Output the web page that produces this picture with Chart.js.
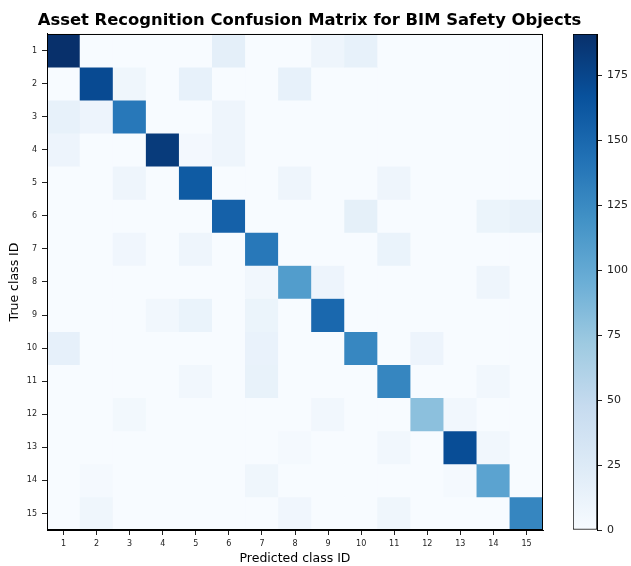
<!DOCTYPE html>
<html>
<head>
<meta charset="utf-8">
<script src="https://cdn.jsdelivr.net/npm/chart.js@4.4.1/dist/chart.umd.min.js"></script>
<style>
    body { margin: 0; background: #fff; }
    #wrap { position: relative; width: 631px; height: 566px; }
    #matriz { position: absolute; left: 0; top: 0; }
    #barra { position: absolute; left: 560px; top: 0; }
</style>
</head>
<body>
<div id="wrap">
    <canvas id="matriz" width="619" height="566"></canvas>
    <canvas id="barra" width="71" height="566"></canvas>
</div>
<script>
// clases (filas = verdadero, columnas = predicho)
const clases = ['1', '2', '3', '4', '5', '6', '7', '8', '9', '10', '11', '12', '13', '14', '15'];

const matriz = [
    [191, 0, 0, 0, 0, 18, 0, 0, 9, 15, 0, 0, 0, 0, 0],
    [0, 172, 8, 0, 15, 0, 0, 15, 0, 0, 0, 0, 0, 0, 0],
    [15, 10, 138, 0, 0, 9, 0, 0, 0, 0, 0, 0, 0, 0, 0],
    [10, 0, 0, 183, 4, 9, 0, 0, 0, 0, 0, 0, 0, 0, 0],
    [0, 0, 9, 0, 160, 0, 0, 9, 0, 0, 9, 0, 0, 0, 0],
    [0, 0, 0, 0, 0, 155, 0, 0, 0, 17, 0, 0, 0, 11, 14],
    [0, 0, 7, 0, 9, 0, 138, 0, 0, 0, 12, 0, 0, 0, 0],
    [0, 0, 0, 0, 0, 0, 6, 110, 10, 0, 0, 0, 0, 9, 0],
    [0, 0, 0, 6, 12, 0, 11, 0, 150, 0, 0, 0, 0, 0, 0],
    [16, 0, 0, 0, 0, 0, 13, 0, 0, 127, 0, 10, 0, 0, 0],
    [0, 0, 0, 0, 6, 0, 14, 0, 0, 0, 128, 0, 0, 6, 0],
    [0, 0, 5, 0, 0, 0, 0, 0, 6, 0, 0, 80, 6, 0, 0],
    [0, 0, 0, 0, 0, 0, 0, 3, 0, 0, 6, 0, 170, 6, 0],
    [0, 3, 0, 0, 0, 0, 8, 0, 0, 0, 0, 0, 3, 105, 0],
    [0, 8, 0, 0, 0, 0, 0, 7, 0, 0, 8, 0, 0, 0, 128]
];

const valorMax = 191;
const ticksBarra = [0, 25, 50, 75, 100, 125, 150, 175];

// mapa de color "Blues"
const azules = ['#f7fbff', '#deebf7', '#c6dbef', '#9ecae1', '#6baed6', '#4292c6', '#2171b5', '#08519c', '#08306b'];

function hexRgb(h) {
    return [parseInt(h.slice(1, 3), 16), parseInt(h.slice(3, 5), 16), parseInt(h.slice(5, 7), 16)];
}

function colorAzul(v) {
    let t = Math.max(0, Math.min(1, v / valorMax)) * (azules.length - 1);
    const i = Math.min(Math.floor(t), azules.length - 2);
    const f = t - i;
    const a = hexRgb(azules[i]);
    const b = hexRgb(azules[i + 1]);
    const c = a.map((x, k) => Math.round(x + (b[k] - x) * f));
    return 'rgb(' + c[0] + ',' + c[1] + ',' + c[2] + ')';
}

const marco = {
    id: 'marco',
    afterDraw(chart) {
        const { ctx, chartArea } = chart;
        ctx.save();
        ctx.strokeStyle = '#000';
        ctx.lineWidth = 1;
        ctx.strokeRect(chartArea.left + 0.5, chartArea.top + 0.5, chartArea.right - chartArea.left - 1, chartArea.bottom - chartArea.top - 1);
        ctx.restore();
    }
};

const filas = matriz.map((fila, r) => ({
    label: 'Verdadero ' + clases[r],
    data: fila.map(() => [r + 0.5, r + 1.5]),
    backgroundColor: fila.map(v => colorAzul(v)),
    borderWidth: 0,
    grouped: false,
    barPercentage: 1,
    categoryPercentage: 1
}));

new Chart(document.getElementById('matriz'), {
    type: 'bar',
    data: { labels: clases, datasets: filas },
    options: {
        responsive: false,
        animation: false,
        layout: { padding: 0 },
        plugins: {
            legend: { display: false },
            tooltip: { enabled: false },
            title: {
                display: true,
                text: 'Asset Recognition Confusion Matrix for BIM Safety Objects',
                color: '#000',
                font: { family: 'DejaVu Sans', size: 16.4, weight: 'bold' },
                padding: { top: 11, bottom: 3.3 }
            }
        },
        scales: {
            x: {
                grid: { display: true, drawOnChartArea: false, offset: false, tickLength: 5, tickColor: '#222' },
                border: { display: true, color: '#000' },
                ticks: { color: '#222', font: { family: 'DejaVu Sans', size: 8 }, padding: 4, maxRotation: 0 },
                title: { display: true, text: 'Predicted class ID', color: '#000', font: { family: 'DejaVu Sans', size: 12.5 }, padding: { top: 0, bottom: 0 } },
                afterFit: s => { s.height = 36; }
            },
            y: {
                reverse: true,
                min: 0.5,
                max: 15.5,
                afterBuildTicks: s => { s.ticks = clases.map((c, i) => ({ value: i + 1 })); },
                grid: { display: true, drawOnChartArea: false, tickLength: 5, tickColor: '#222' },
                border: { display: true, color: '#000' },
                ticks: { color: '#222', font: { family: 'DejaVu Sans', size: 8 }, padding: 5, callback: v => clases[v - 1] },
                title: { display: true, text: 'True class ID', color: '#000', font: { family: 'DejaVu Sans', size: 12.5 }, padding: { top: 7, bottom: 0 } },
                afterFit: s => { s.width = 47; }
            },
            // espacio vacio a la derecha para la barra de color
            hueco: {
                position: 'right',
                grid: { display: false },
                border: { display: false },
                ticks: { display: false },
                afterFit: s => { s.width = 76; }
            }
        }
    },
    plugins: [marco]
});

// barra de color
new Chart(document.getElementById('barra'), {
    type: 'bar',
    data: {
        labels: [''],
        datasets: [{
            data: [[0, valorMax]],
            backgroundColor: ctx => {
                const area = ctx.chart.chartArea;
                if (!area) return azules[4];
                const g = ctx.chart.ctx.createLinearGradient(0, area.bottom, 0, area.top);
                azules.forEach((c, i) => g.addColorStop(i / (azules.length - 1), c));
                return g;
            },
            borderColor: '#000',
            borderWidth: 1,
            borderSkipped: false,
            barPercentage: 1,
            categoryPercentage: 1
        }]
    },
    options: {
        responsive: false,
        animation: false,
        layout: { padding: { left: 13, right: 0, top: 34, bottom: 36 } },
        plugins: { legend: { display: false }, tooltip: { enabled: false } },
        scales: {
            x: { display: false },
            y: {
                position: 'right',
                min: 0,
                max: valorMax,
                afterBuildTicks: s => { s.ticks = ticksBarra.map(v => ({ value: v })); },
                grid: { display: true, drawOnChartArea: false, tickLength: 5, tickColor: '#222' },
                border: { display: true, color: '#000' },
                ticks: { color: '#222', font: { family: 'DejaVu Sans', size: 11 }, padding: 5 },
                afterFit: s => { s.width = 34; }
            }
        }
    }
});
</script>
</body>
</html>
